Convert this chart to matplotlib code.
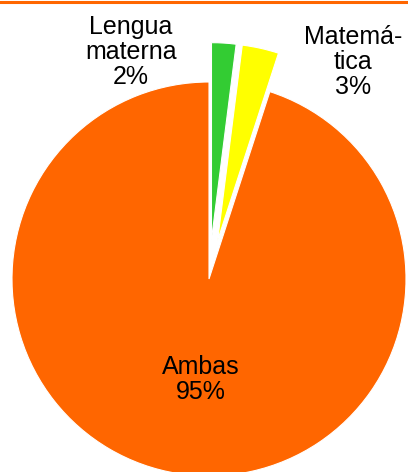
import matplotlib
matplotlib.use("Agg")
import matplotlib.pyplot as plt

plt.rcParams['font.family'] = ['Liberation Sans', 'DejaVu Sans']

categories = ["Lengua\nmaterna", "Matemá-\ntica", "Ambas"]
values = [2, 3, 95]
colors = ["#33CC33", "#FFFF00", "#FF6600"]
explode = [0.2, 0.2, 0.0]
label_pos = [(-0.396, 1.152), (0.731, 1.10), (-0.04, -0.51)]

fig = plt.figure(figsize=(4.08, 4.72), dpi=100)
ax = fig.add_axes([0, 0, 1, 1])
wedges, _ = ax.pie(values, colors=colors, explode=explode, startangle=90,
                   counterclock=False, radius=1.0,
                   wedgeprops=dict(edgecolor="white", linewidth=0.8))
R = 197.0
ax.set_xlim(-209 / R, (408 - 209) / R)
ax.set_ylim(-(472 - 279) / R, 279 / R)
ax.set_aspect('auto')
ax.axis('off')

total = sum(values)
for cat, v, (x, y) in zip(categories, values, label_pos):
    ax.text(x, y, f"{cat}\n{round(100 * v / total)}%", ha='center', va='center',
            fontsize=18, linespacing=1.05, color='black')

fig.add_artist(plt.Line2D([0, 1], [1 - 1.5 / 472, 1 - 1.5 / 472], color="#FF6600",
                          linewidth=2.2, transform=fig.transFigure))
fig.savefig("out.png", dpi=100)
